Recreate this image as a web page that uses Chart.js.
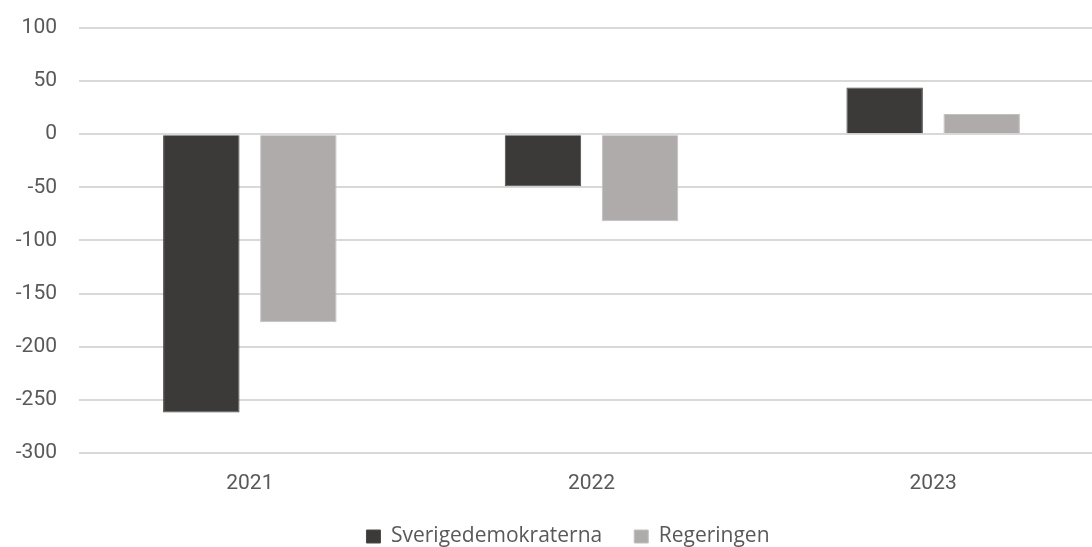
<!DOCTYPE html>
<html>
<head>
<meta charset="utf-8">
<script src="https://cdn.jsdelivr.net/npm/chart.js@4.4.1/dist/chart.umd.min.js"></script>
<style>
  html, body { margin: 0; padding: 0; background: #fff; overflow: hidden; }
  #wrap { width: 1092px; height: 547px; overflow: hidden; }
</style>
</head>
<body>
<div id="wrap"><canvas id="chart" width="1110" height="547"></canvas></div>
<script>
const years = ["2021", "2022", "2023"];
const sdValues = [-262, -49, 44];
const regValues = [-177, -82, 19];
const yTicks = [100, 50, 0, -50, -100, -150, -200, -250, -300];

const textColor = "#595959";
const gridColor = "#d9d9d9";

// Excel-style legend: nudge it a little
const shiftLegend = {
    id: 'shiftLegend',
    afterLayout(chart) {
        const l = chart.legend;
        l.left += 16;
        l.right += 16;
        l.top -= 12;
        l.bottom -= 12;
    }
};

const ctx = document.querySelector('#chart').getContext('2d');
new Chart(ctx, {
    type: 'bar',
    data: {
        labels: years,
        datasets: [{
            label: "Sverigedemokraterna",
            data: sdValues,
            backgroundColor: "#3b3a38",
            borderColor: "#4b4a48",
            borderWidth: 1,
            categoryPercentage: 0.568,
            barPercentage: 0.788
        }, {
            label: "Regeringen",
            data: regValues,
            backgroundColor: "#afabaa",
            borderColor: "#c2bfbe",
            borderWidth: 1,
            categoryPercentage: 0.568,
            barPercentage: 0.788
        }]
    },
    options: {
        responsive: false,
        animation: false,
        layout: {
            padding: { top: 28, right: 6, left: 0, bottom: -22 }
        },
        plugins: {
            legend: {
                position: 'bottom',
                labels: {
                    color: textColor,
                    boxWidth: 14,
                    boxHeight: 13,
                    padding: 32,
                    font: { family: "'Open Sans'", size: 21 }
                }
            },
            tooltip: { enabled: false }
        },
        scales: {
            x: {
                grid: { display: false },
                border: { display: false },
                ticks: {
                    color: textColor,
                    padding: 10,
                    font: { family: "Roboto", size: 21 }
                }
            },
            y: {
                min: -300,
                max: 100,
                afterFit(scale) { scale.width = 79; },
                afterBuildTicks(scale) {
                    scale.ticks = yTicks.map(v => ({ value: v }));
                },
                grid: {
                    color: gridColor,
                    lineWidth: 2,
                    tickLength: 22,
                    tickColor: 'transparent'
                },
                border: { display: false },
                ticks: {
                    color: textColor,
                    padding: 0,
                    font: { family: "Roboto", size: 21 }
                }
            }
        }
    },
    plugins: [shiftLegend]
});
</script>
</body>
</html>
